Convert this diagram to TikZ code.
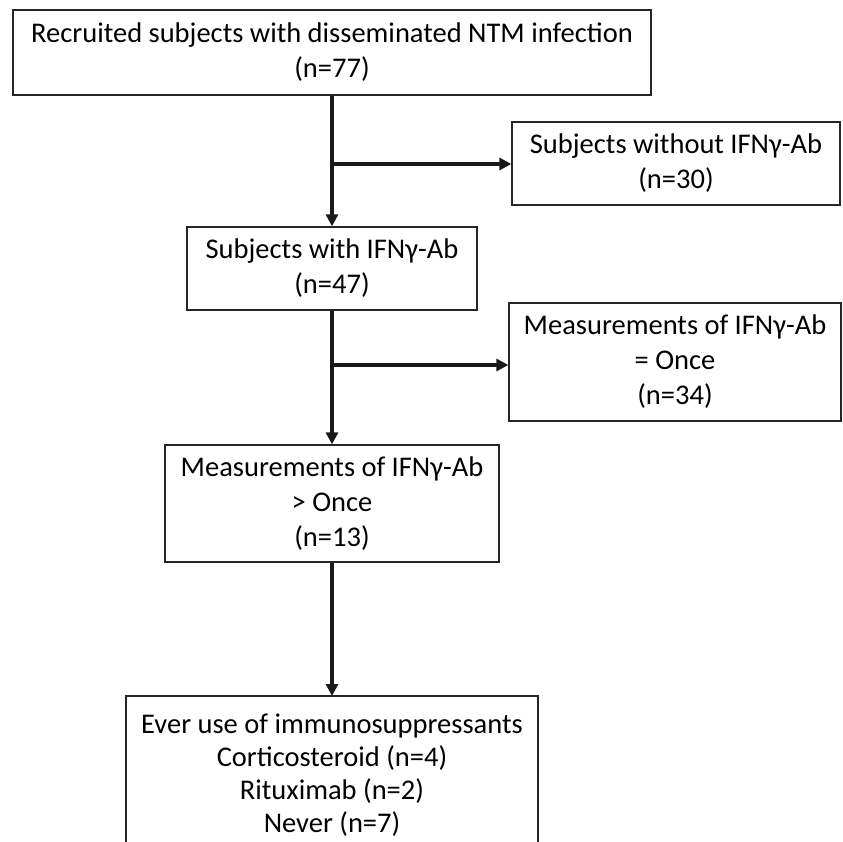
\documentclass[tikz,border=0pt]{standalone}
\usepackage{fontspec}
\setmainfont{Carlito}
\usetikzlibrary{arrows.meta}
\begin{document}
\begin{tikzpicture}[x=1pt,y=-1pt,
  box/.style={draw=black!85,line width=1.3pt,align=center,inner sep=0pt,
    font=\fontsize{28.5}{35}\selectfont},
  txt/.style={align=center,inner sep=0pt,font=\fontsize{28.5}{33}\selectfont},
  conn/.style={line width=3.2pt,draw=black!90,-{Triangle[length=12pt,width=12pt]}},
  boxline/.style={draw=black!85,line width=1.3pt}]
\useasboundingbox (0,0) rectangle (843,842);
\node[box,minimum width=638pt,minimum height=85pt] (b1) at (332,52.5)
  {Recruited subjects with disseminated NTM infection\\(n=77)};
\node[box,minimum width=328pt,minimum height=83pt] (bw) at (676,163.5)
  {Subjects without IFNγ-Ab\\(n=30)};
\node[box,minimum width=290pt,minimum height=83pt] (b2) at (332,268.5)
  {Subjects with IFNγ-Ab\\(n=47)};
\node[box,minimum width=332pt,minimum height=118pt] (b3) at (675,362)
  {Measurements of IFNγ-Ab\\= Once\\(n=34)};
\node[box,minimum width=334pt,minimum height=117pt] (b4) at (332,503.5)
  {Measurements of IFNγ-Ab\\> Once\\(n=13)};
\coordinate (b5top) at (332,696);
\coordinate (b5bl) at (126,845);
\coordinate (b5br) at (538,845);
\node[txt] (b5) at (332,775.5)
  {Ever use of immunosuppressants\\Corticosteroid (n=4)\\Rituximab (n=2)\\Never (n=7)};
\draw[boxline] (b5bl) |- (b5top) -| (b5br);
\coordinate (j1) at (332,164);
\coordinate (j2) at (332,365);
\draw[conn] (b1.south) -- (b2.north);
\draw[conn] (j1) -- (j1 -| bw.west);
\draw[conn] (b2.south) -- (b4.north);
\draw[conn] (j2) -- (j2 -| b3.west);
\draw[conn] (b4.south) -- (b5top);
\end{tikzpicture}
\end{document}
